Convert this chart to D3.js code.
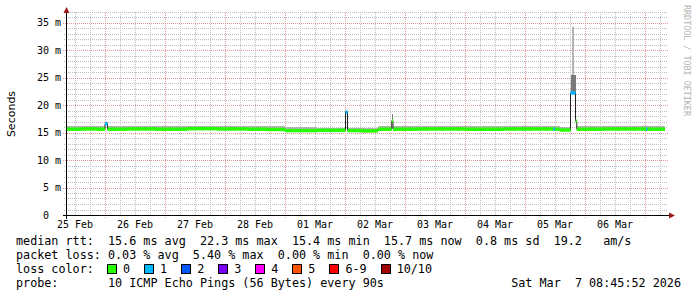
<!DOCTYPE html>
<html>
<head>
<meta charset="utf-8">
<script src="https://cdn.jsdelivr.net/npm/d3@7"></script>
<style>
  html, body { margin: 0; padding: 0; background: #fff; }
  svg { display: block; }
  text { white-space: pre; }
</style>
</head>
<body>
<div id="chart"></div>
<script>
window.addEventListener('DOMContentLoaded', ()=>{

    // segments of the median line: start hour (from 25 Feb 08:48), median ms, smoke top ms, loss count
    const segStart  = [0, 6, 12, 15.2, 16.2, 24, 36, 48, 60, 72, 80, 87.2, 100, 111.4, 112.2, 118, 124.4, 129.9, 130.4, 140, 160, 175, 194.6, 195.2, 197, 201.4, 203.4, 203.9, 215, 231.6, 232.2];
    const segMedian = [15.6, 15.65, 15.6, 16.6, 15.6, 15.65, 15.6, 15.7, 15.65, 15.6, 15.55, 15.35, 15.4, 18.7, 15.35, 15.3, 15.6, 17.1, 15.6, 15.65, 15.6, 15.65, 15.6, 15.6, 15.45, 22.2, 17.1, 15.6, 15.65, 15.6, 15.6];
    const segSmoke  = [16.1, 16.15, 16.1, 16.9, 16.15, 16.1, 16.15, 16.25, 16.2, 16.25, 16.2, 15.95, 15.9, 18.9, 15.9, 15.9, 16.1, 18.4, 16.1, 16.15, 16.1, 16.15, 16.1, 16.1, 16.0, 25.5, 17.3, 16.1, 16.15, 16.1, 16.1];
    const segLoss   = [0, 0, 0, 1, 0, 0, 0, 0, 0, 0, 0, 0, 0, 1, 0, 0, 0, 0, 0, 0, 0, 0, 1, 0, 0, 1, 0, 0, 0, 1, 0];
    const dataEnd = 239.2;

    // tall thin smoke on the 05 Mar spike
    const tallSmokeStart = [201.9];
    const tallSmokeEnd   = [202.6];
    const tallSmokeLo    = [25.5];
    const tallSmokeHi    = [34.2];

    const yTicks = [0, 5, 10, 15, 20, 25, 30, 35];
    const yTickLabels = ['0  ', '5 m', '10 m', '15 m', '20 m', '25 m', '30 m', '35 m'];

    const lossNames  = ['0', '1', '2', '3', '4', '5', '6-9', '10/10'];
    const lossColors = ['#26ff00', '#00b8ff', '#0059ff', '#7e00ff', '#ff00ff', '#ff5500', '#ff0000', '#a10000'];

    const legendLines = [
        'median rtt:  15.6 ms avg  22.3 ms max  15.4 ms min  15.7 ms now  0.8 ms sd  19.2   am/s',
        'packet loss: 0.03 % avg  5.40 % max  0.00 % min  0.00 % now',
        'loss color:',
        'probe:       10 ICMP Echo Pings (56 Bytes) every 90s'
    ];
    const stampText = 'Sat Mar  7 08:45:52 2026';

    const width = 697, height = 297;
    const plot = { left: 67, right: 667, top: 12, bottom: 215 };
    const mono = '"DejaVu Sans Mono", monospace';

    const startDate = new Date(2026, 1, 25, 8, 48);
    const endDate = new Date(2026, 2, 7, 8, 48);
    const hourToDate = h => new Date(+startDate + h * 3600e3);

    const x = d3.scaleTime().domain([startDate, endDate]).range([plot.left, plot.right]);
    const y = d3.scaleLinear().domain([0, 37]).range([plot.bottom, plot.bottom - 37 * 5.5]);

    const svg = d3.select('#chart').append('svg')
        .attr('width', width)
        .attr('height', height);

    svg.append('rect').attr('width', width).attr('height', height).attr('fill', '#fff');

    // grid
    const grid = svg.append('g').attr('shape-rendering', 'crispEdges');
    const minorY = d3.range(1, 38).filter(v => v % 5 !== 0 && y(v) >= plot.top - 1);
    grid.selectAll('.hminor').data(minorY).join('line')
        .attr('x1', 64).attr('x2', 668)
        .attr('y1', d => Math.round(y(d)) + 0.5).attr('y2', d => Math.round(y(d)) + 0.5)
        .attr('stroke', '#bdbdbd').attr('stroke-dasharray', '1,1');
    const hours6 = d3.timeHour.every(6).range(startDate, endDate);
    grid.selectAll('.vminor').data(hours6.filter(d => d.getHours() !== 0)).join('line')
        .attr('x1', d => Math.round(x(d)) + 0.5).attr('x2', d => Math.round(x(d)) + 0.5)
        .attr('y1', plot.bottom).attr('y2', plot.top)
        .attr('stroke', '#bdbdbd').attr('stroke-dasharray', '1,1');
    grid.selectAll('.hmajor').data(yTicks.slice(1)).join('line')
        .attr('x1', 63).attr('x2', 668)
        .attr('y1', d => Math.round(y(d)) + 0.5).attr('y2', d => Math.round(y(d)) + 0.5)
        .attr('stroke', '#e99696').attr('stroke-dasharray', '1,1');
    const days = d3.timeDay.range(startDate, endDate);
    grid.selectAll('.vmajor').data(days).join('line')
        .attr('x1', d => Math.round(x(d)) + 0.5).attr('x2', d => Math.round(x(d)) + 0.5)
        .attr('y1', plot.bottom + 3).attr('y2', plot.top)
        .attr('stroke', '#e99696').attr('stroke-dasharray', '1,1');

    // segments
    const segs = segStart.map((s, i) => ({
        t0: s,
        t1: i < segStart.length - 1 ? segStart[i + 1] : dataEnd,
        med: segMedian[i],
        smoke: segSmoke[i],
        loss: segLoss[i]
    }));

    // smoke
    const smokeG = svg.append('g').attr('shape-rendering', 'crispEdges');
    smokeG.selectAll('.smoke').data(segs).join('rect')
        .attr('x', d => x(hourToDate(d.t0)))
        .attr('width', d => x(hourToDate(d.t1)) - x(hourToDate(d.t0)))
        .attr('y', d => y(d.smoke))
        .attr('height', d => y(d.med) - y(d.smoke))
        .attr('fill', d => d.smoke - d.med > 1 ? '#7a7a7a' : '#b2b2b2');
    smokeG.selectAll('.tall').data(tallSmokeStart).join('rect')
        .attr('x', (d, i) => x(hourToDate(d)))
        .attr('width', (d, i) => x(hourToDate(tallSmokeEnd[i])) - x(hourToDate(d)))
        .attr('y', (d, i) => y(tallSmokeHi[i]))
        .attr('height', (d, i) => y(tallSmokeLo[i]) - y(tallSmokeHi[i]))
        .attr('fill', '#b4b4b4');

    // dark median line
    const stepPts = segs.map(d => [hourToDate(d.t0), d.med]);
    stepPts.push([hourToDate(dataEnd), segs[segs.length - 1].med]);
    const line = d3.line().x(d => x(d[0])).y(d => y(d[1])).curve(d3.curveStepAfter);
    svg.append('path').datum(stepPts)
        .attr('d', line)
        .attr('fill', 'none').attr('stroke', '#202020').attr('stroke-width', 1);

    // colored median, one horizontal piece per segment
    svg.append('g').selectAll('line').data(segs).join('line')
        .attr('x1', d => x(hourToDate(d.t0)))
        .attr('x2', d => x(hourToDate(d.t1)))
        .attr('y1', d => y(d.med)).attr('y2', d => y(d.med))
        .attr('stroke', d => lossColors[d.loss])
        .attr('stroke-width', 3.5);

    // axes
    const axisG = svg.append('g').attr('shape-rendering', 'crispEdges');
    axisG.append('line').attr('x1', 63).attr('x2', 671).attr('y1', 215.5).attr('y2', 215.5).attr('stroke', '#000');
    axisG.append('line').attr('x1', 66.5).attr('x2', 66.5).attr('y1', 219).attr('y2', 11).attr('stroke', '#000');
    svg.append('path').attr('d', 'M669,212.5L675,215.5L669,218.5Z').attr('fill', '#9b1a1a');
    svg.append('path').attr('d', 'M63.5,13L66.5,7L69.5,13Z').attr('fill', '#9b1a1a');

    svg.append('g').selectAll('text').data(yTicks).join('text')
        .attr('x', 61).attr('y', d => y(d) + 3.5)
        .attr('text-anchor', 'end')
        .attr('font-family', mono).attr('font-size', 10).attr('fill', '#000')
        .text((d, i) => yTickLabels[i]);

    // day labels centred on noon, first one on the partial day at the left
    const labelDays = [d3.timeDay.floor(startDate)].concat(days)
        .filter(d => x(d3.timeHour.offset(d, 12)) < plot.right);
    svg.append('g').selectAll('text').data(labelDays).join('text')
        .attr('x', d => x(d3.timeHour.offset(d, 12)))
        .attr('y', 227.5)
        .attr('text-anchor', 'middle')
        .attr('font-family', mono).attr('font-size', 10).attr('fill', '#000')
        .text(d => d3.timeFormat('%d %b')(d));

    svg.append('text')
        .attr('transform', 'translate(15,114) rotate(-90)')
        .attr('text-anchor', 'middle')
        .attr('font-family', '"DejaVu Sans", sans-serif').attr('font-size', 11).attr('fill', '#000')
        .text('Seconds');

    svg.append('text')
        .attr('transform', 'translate(684,5) rotate(90)')
        .attr('font-family', mono).attr('font-size', 8.4).attr('fill', '#b4b4b4')
        .text('RRDTOOL / TOBI OETIKER');

    // legend
    const legendY = [245, 259, 273, 287];
    svg.append('g').selectAll('text').data(legendLines).join('text')
        .attr('x', 16).attr('y', (d, i) => legendY[i])
        .attr('font-family', mono).attr('font-size', 11.75).attr('fill', '#000')
        .text(d => d);

    svg.append('text')
        .attr('x', 681).attr('y', legendY[3]).attr('text-anchor', 'end')
        .attr('font-family', mono).attr('font-size', 11.75).attr('fill', '#000')
        .text(stampText);

    let bx = 107;
    const boxX = lossNames.map(n => { const v = bx; bx += 16 + n.length * 7.07 + 14; return v; });
    const items = svg.append('g').selectAll('g').data(lossNames).join('g')
        .attr('transform', (d, i) => `translate(${boxX[i]},0)`);
    items.append('rect')
        .attr('x', 0.5).attr('y', 264.5).attr('width', 9).attr('height', 9)
        .attr('fill', (d, i) => lossColors[i]).attr('stroke', '#000')
        .attr('shape-rendering', 'crispEdges');
    items.append('text')
        .attr('x', 16).attr('y', legendY[2])
        .attr('font-family', mono).attr('font-size', 11.75).attr('fill', '#000')
        .text(d => d);

}); //end of doc ready
</script>
</body>
</html>
